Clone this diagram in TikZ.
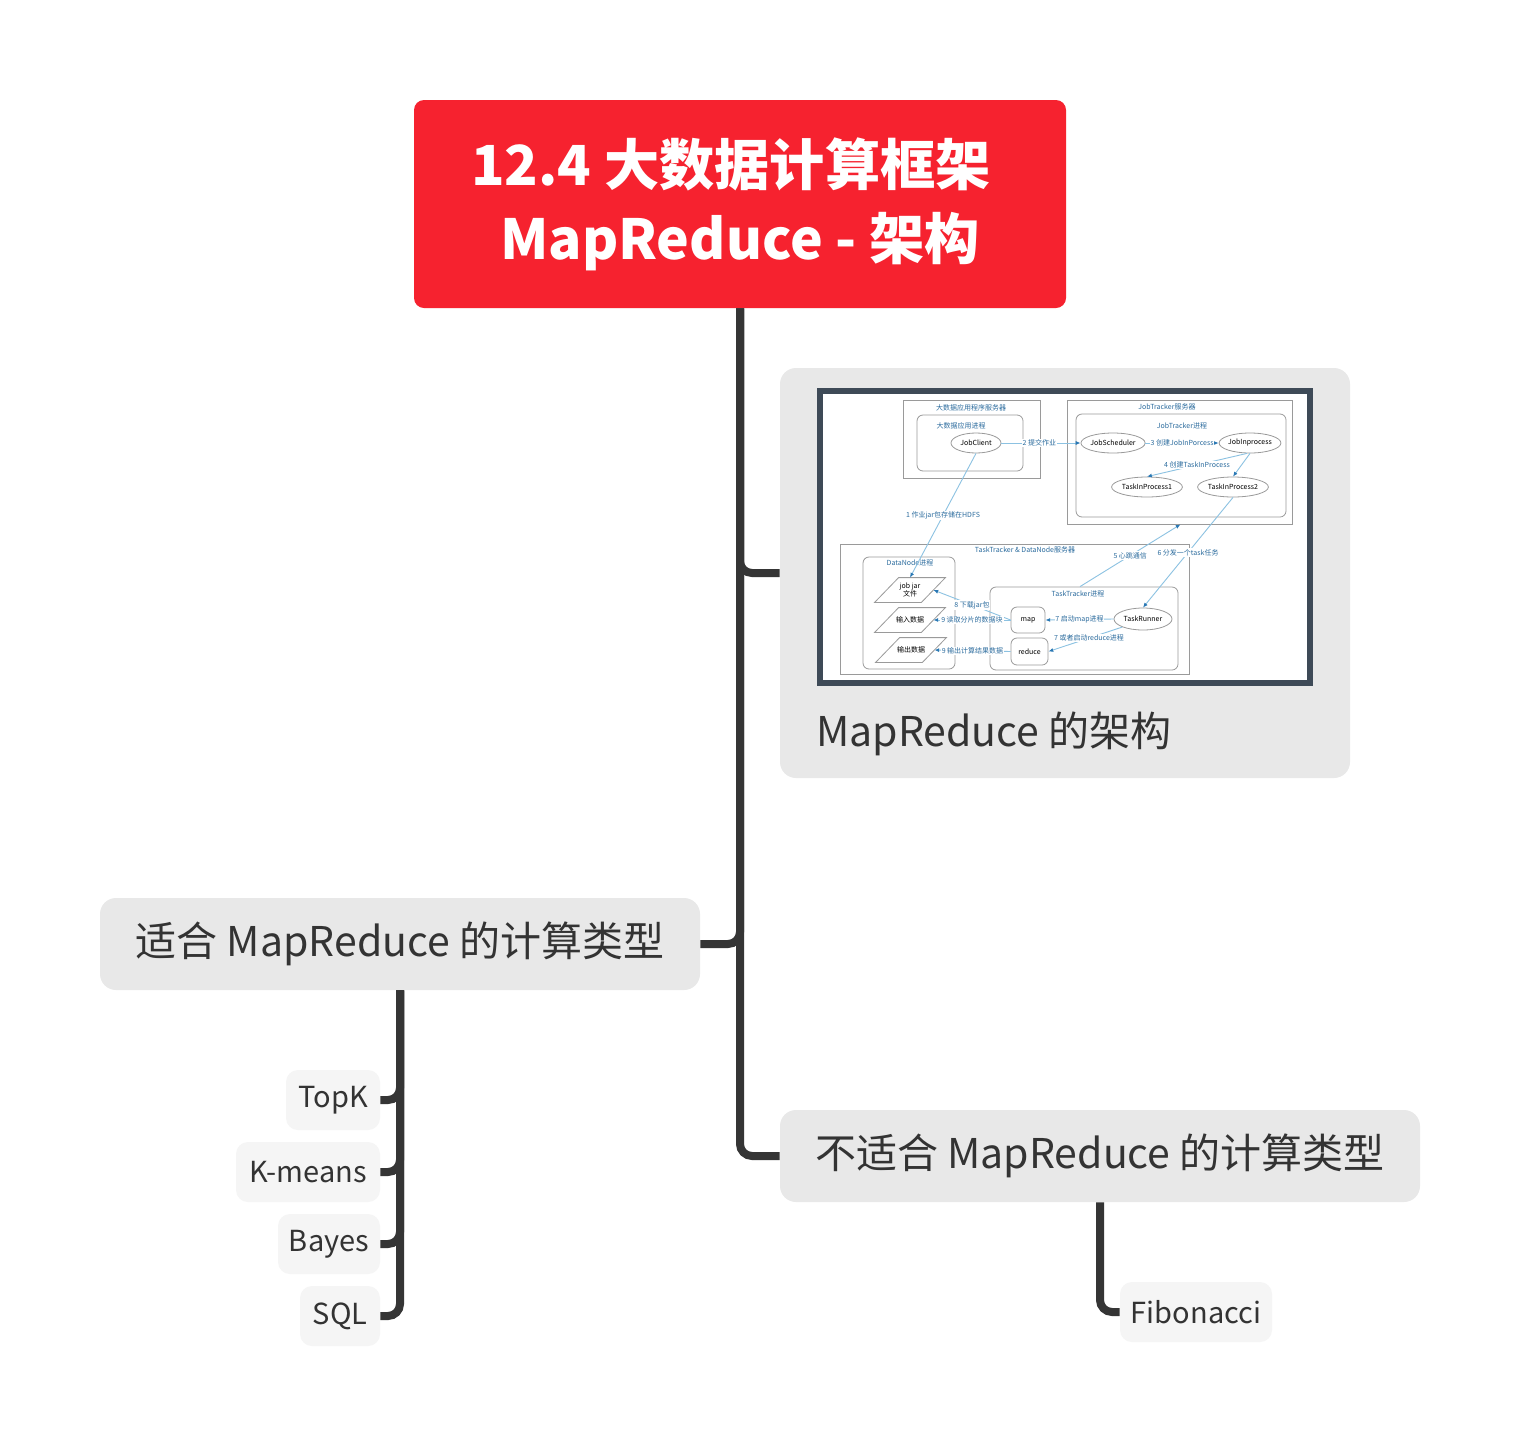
\documentclass[tikz,border=0pt]{standalone}
\usepackage{fontspec}
\setmainfont{Noto Sans CJK SC}
\usetikzlibrary{shapes.geometric,arrows.meta}
\definecolor{titlered}{HTML}{F6222F}
\definecolor{topicgray}{HTML}{E8E8E8}
\definecolor{leafgray}{HTML}{F5F5F5}
\definecolor{conncol}{HTML}{353535}
\definecolor{txt}{HTML}{333333}
\definecolor{framecol}{HTML}{3E4A57}
\definecolor{blueline}{HTML}{8CC2E2}
\definecolor{arrowblue}{HTML}{2A78B4}
\definecolor{bluetext}{HTML}{2C6C9E}
\definecolor{boxgray}{HTML}{9A9A9A}
\newcommand\plgram[1]{\draw[gbox] ([xshift=-6pt]#1.south west) -- ([xshift=6pt]#1.north west) -- ([xshift=6pt]#1.north east) -- ([xshift=-6pt]#1.south east) -- cycle;}
\tikzset{
  titlebox/.style={fill=titlered, rounded corners=5pt, inner sep=0pt, text=white,
    font=\fontsize{27.6}{37}\selectfont\bfseries, align=center},
  topic/.style={fill=topicgray, rounded corners=8pt, inner sep=0pt, text=txt,
    font=\fontsize{20.5}{24}\selectfont},
  leaf/.style={fill=leafgray, rounded corners=6pt, inner sep=0pt, minimum height=30pt,
    text=txt, font=\fontsize{14.5}{17}\selectfont},
  conn/.style={draw=conncol, line width=4pt, rounded corners=6pt},
  tinyf/.style={font=\fontsize{3.5}{4.2}\selectfont},
  gbox/.style={draw=boxgray, line width=0.4pt},
  rbox/.style={gbox, rounded corners=3pt, inner sep=0pt, tinyf, text=black},
  sqbox/.style={gbox, inner sep=0pt},
  ell/.style={ellipse, gbox, inner sep=0pt, minimum height=10pt, tinyf, text=black},
  blab/.style={tinyf, text=bluetext, inner sep=0.3pt},
  elab/.style={tinyf, text=bluetext, fill=white, inner sep=0.4pt},
  plgnode/.style={inner sep=0pt, minimum width=23pt, minimum height=12pt, tinyf, text=black, align=center},
  bl/.style={draw=blueline, line width=0.45pt, -{Latex[length=2.4pt,width=2pt,color=arrowblue]}},
}
\begin{document}
\begin{tikzpicture}[x=0.5pt,y=-0.5pt]
\useasboundingbox[fill=white] (0,0) rectangle (1520,1446);

% ---------- mind map nodes ----------
\node[titlebox, minimum width=326pt, minimum height=104pt] (title) at (740,204)
  {12.4 大数据计算框架\hspace*{9pt}\\MapReduce - 架构};

\node[topic, minimum width=285pt, minimum height=205pt] (pic) at (1065,573) {};
\node[fill=framecol, minimum width=248pt, minimum height=149pt, inner sep=0pt] (img) at (1065,537) {};
\node[fill=white, minimum width=242pt, minimum height=143pt, inner sep=0pt] (imgin) at (1065,537) {};
\node[anchor=base west, inner sep=0pt, text=txt, font=\fontsize{20.5}{24}\selectfont] (caption) at (816,746) {MapReduce 的架构};

\node[topic, minimum width=300pt, minimum height=46pt] (fit) at (400,944) {适合 MapReduce 的计算类型};
\node[topic, minimum width=320pt, minimum height=46pt] (nfit) at (1100,1156) {不适合 MapReduce 的计算类型};

\node[leaf, minimum width=47pt] (topk) at (333,1100) {TopK};
\node[leaf, minimum width=72pt] (kmeans) at (308,1172) {K-means};
\node[leaf, minimum width=51pt] (bayes) at (329,1244) {Bayes};
\node[leaf, minimum width=40pt] (sql) at (340,1316) {SQL};
\node[leaf, minimum width=76pt] (fib) at (1196,1312) {Fibonacci};

% ---------- connectors ----------
\draw[conn] (title.south) |- (pic.west);
\draw[conn] (title.south) |- (fit.east);
\draw[conn] (title.south) |- (nfit.west);
\draw[conn] (fit.south) |- (topk.east);
\draw[conn] (fit.south) |- (kmeans.east);
\draw[conn] (fit.south) |- (bayes.east);
\draw[conn] (fit.south) |- (sql.east);
\draw[conn] (nfit.south) |- (fib.west);

% ---------- embedded architecture picture ----------
% application server
\node[sqbox, minimum width=68.5pt, minimum height=39pt] (appsrv) at (971.5,439) {};
\node[blab] (appsrvl) at (971,408) {大数据应用程序服务器};
\node[rbox, minimum width=53pt, minimum height=28pt] (appproc) at (970,443) {};
\node[blab] (appprocl) at (961,426) {大数据应用进程};
\node[ell, minimum width=25pt] (jobclient) at (976,443) {JobClient};

% JobTracker server
\node[sqbox, minimum width=112.5pt, minimum height=62pt] (jtsrv) at (1179.5,462) {};
\node[blab] (jtsrvl) at (1167,407) {JobTracker服务器};
\node[rbox, minimum width=105pt, minimum height=51.5pt] (jtproc) at (1181,465.5) {};
\node[blab] (jtprocl) at (1182,426) {JobTracker进程};
\node[ell, minimum width=26.5pt] (jobsched) at (1113,443) {JobScheduler};
\node[ell, minimum width=29pt] (jobinp) at (1250,443) {JobInprocess};
\node[ell, minimum width=32.5pt] (tip1) at (1147,487) {TaskInProcess1};
\node[ell, minimum width=32.5pt] (tip2) at (1233,487) {TaskInProcess2};

% TaskTracker & DataNode server
\node[sqbox, minimum width=174.5pt, minimum height=65pt] (ttsrv) at (1014.5,609) {};
\node[blab] (ttsrvl) at (1025,550) {TaskTracker \& DataNode服务器};
\node[rbox, minimum width=46pt, minimum height=56pt] (dnproc) at (909,613) {};
\node[blab] (dnprocl) at (910,563) {DataNode进程};
\node[rbox, minimum width=94pt, minimum height=41.5pt] (ttproc) at (1084,628.5) {};
\node[blab] (ttprocl) at (1078,594) {TaskTracker进程};
\node[rbox, minimum width=17pt, minimum height=13pt] (map) at (1028,620) {map};
\node[rbox, minimum width=18.5pt, minimum height=13.5pt] (reduce) at (1029.5,651.5) {reduce};
\node[ell, minimum width=29pt, minimum height=11pt] (runner) at (1143,619) {TaskRunner};

\node[plgnode] (jar) at (910,590) {job jar\\[-0.6pt]文件};
\node[plgnode] (inp) at (910,620) {输入数据};
\node[plgnode] (outp) at (911,650) {输出数据};
\plgram{jar}
\plgram{inp}
\plgram{outp}

% arrows
\draw[bl] (jobclient.south) -- node[elab, pos=0.5] {1 作业jar包存储在HDFS} (jar.north);
\draw[bl] (jobclient.east) -- node[elab, pos=0.48] {2 提交作业} (jobsched.west);
\draw[bl] (jobsched.east) -- node[elab, pos=0.5] {3 创建JobInPorcess} (jobinp.west);
\draw[bl] ([xshift=-1.5pt]jobinp.south) -- node[elab, pos=0.5] {4 创建TaskInProcess} (tip1.north);
\draw[bl] (jobinp.south) -- (tip2.north);
\draw[bl] ([xshift=-2pt]ttproc.north) -- node[elab, pos=0.5] {5 心跳通信} ([xshift=0.5pt]jtsrv.south);
\draw[bl] (tip2.south) -- node[elab, pos=0.5] {6 分发一个task任务} (runner.north);
\draw[bl] (runner.west) -- node[elab, pos=0.5] {7 启动map进程} (map.east);
\draw[bl] (runner.south west) -- node[elab, pos=0.45] {7 或者启动reduce进程} (reduce.east);
\draw[bl] (map.west) -- node[elab, pos=0.5] {8 下载jar包} (jar.east);
\draw[bl] (map.west) -- node[elab, pos=0.5] {9 读取分片的数据块} (inp.east);
\draw[bl] (reduce.west) -- node[elab, pos=0.5] {9 输出计算结果数据} (outp.east);
\end{tikzpicture}
\end{document}
